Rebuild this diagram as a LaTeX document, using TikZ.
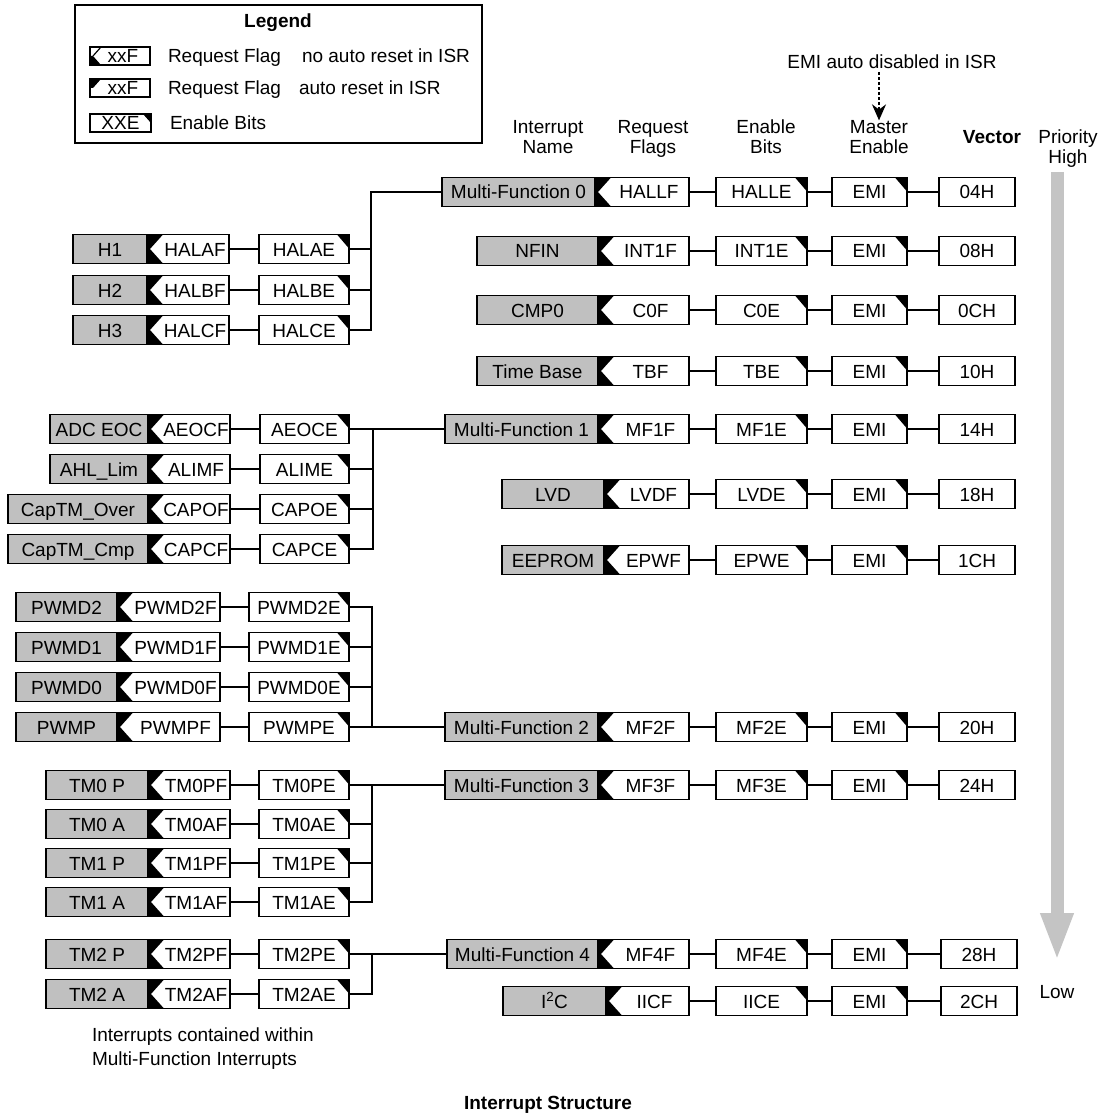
\documentclass[tikz,border=0pt]{standalone}
\usepackage{fontspec}
\setmainfont{Liberation Sans}
\usepackage{tikz}
\usetikzlibrary{arrows.meta,positioning,calc}
\definecolor{ink}{HTML}{000000}
\definecolor{boxgray}{HTML}{C0C0C0}
\definecolor{arrowgray}{HTML}{C4C4C4}
\newcommand{\diagfont}{\fontsize{19}{20}\selectfont}

\begin{document}
\begin{tikzpicture}[x=1pt,y=-1pt,every node/.style={font=\diagfont,inner sep=0pt,outer sep=0pt},
namebox/.style={draw=ink,fill=boxgray,line width=1.7pt,minimum height=29pt,text height=14pt,text depth=0pt},
flagbox/.style={draw=ink,fill=white,line width=1.7pt,minimum height=29pt,minimum width=82pt,text height=14pt,text depth=0pt,execute at begin node={\hspace*{14pt}},path picture={\fill[ink] (path picture bounding box.north west) -- ([xshift=16pt]path picture bounding box.north west) -- ([xshift=3pt]path picture bounding box.west) -- ([xshift=16pt]path picture bounding box.south west) -- (path picture bounding box.south west) -- cycle;}},
enbox/.style={draw=ink,fill=white,line width=1.7pt,minimum height=29pt,minimum width=90pt,text height=14pt,text depth=0pt,path picture={\fill[ink] ([xshift=-12pt]path picture bounding box.north east) -- (path picture bounding box.north east) -- ([yshift=-14pt]path picture bounding box.north east) -- cycle;}},
emibox/.style={enbox,minimum width=75pt},
vecbox/.style={draw=ink,line width=1.7pt,minimum height=29pt,minimum width=76pt,text height=14pt,text depth=0pt},
lgflaga/.style={draw=ink,fill=white,line width=1.7pt,minimum width=60pt,minimum height=18pt,text height=13pt,text depth=0pt,execute at begin node={\hspace*{6pt}},path picture={\fill[ink] ([xshift=3pt]path picture bounding box.west) -- ([xshift=11pt]path picture bounding box.south west) -- (path picture bounding box.south west) -- (path picture bounding box.west) -- cycle;\draw[ink,line width=1.2pt] ([xshift=11pt]path picture bounding box.north west) -- ([xshift=3pt]path picture bounding box.west);}},
lgflagb/.style={draw=ink,fill=white,line width=1.7pt,minimum width=60pt,minimum height=18pt,text height=13pt,text depth=0pt,execute at begin node={\hspace*{6pt}},path picture={\fill[ink] (path picture bounding box.north west) -- ([xshift=11pt]path picture bounding box.north west) -- ([xshift=3pt]path picture bounding box.west) -- (path picture bounding box.west) -- cycle;}},
lgenbox/.style={draw=ink,fill=white,line width=1.7pt,minimum width=61pt,minimum height=18pt,text height=13pt,text depth=0pt,path picture={\fill[ink] ([xshift=-8pt]path picture bounding box.north east) -- (path picture bounding box.north east) -- ([yshift=-9pt]path picture bounding box.north east) -- cycle;}},
hdr/.style={align=center},
link/.style={draw=ink,line width=1.7pt},
dasharrow/.style={draw=ink,line width=1.7pt,dash pattern=on 3pt off 2pt,-{Stealth[length=16pt,width=14pt]}},
prioarrow/.style={draw=arrowgray,line width=13pt,-{Triangle[length=48pt,width=30pt]}}]
\useasboundingbox (0,0) rectangle (1100,1115);
% legend
\node[draw=ink,line width=1.7pt,minimum width=407pt,minimum height=138pt,anchor=north west] (legend) at (75,5) {};
\node[font=\diagfont\bfseries] (lgtitle) at (278,23) {Legend};
\node[lgflaga,anchor=west] (lgf1) at (90,56) {xxF};
\node[anchor=base west] (lgt1) at (168,63) {Request Flag};
\node[anchor=base west] (lgn1) at (302,63) {no auto reset in ISR};
\node[lgflagb,anchor=west] (lgf2) at (90,88) {xxF};
\node[anchor=base west] (lgt2) at (168,95) {Request Flag};
\node[anchor=base west] (lgn2) at (299,95) {auto reset in ISR};
\node[lgenbox,anchor=west] (lge) at (90,123) {XXE};
\node[anchor=base west] (lgt3) at (170,130) {Enable Bits};
% column heads
\node (emitxt) at (892,62) {EMI auto disabled in ISR};
\node[hdr] (hdname) at (548,137) {Interrupt\\Name};
\node[hdr] (hdflag) at (653,139) {Request\\Flags};
\node[hdr] (hden) at (766,137) {Enable\\Bits};
\node[hdr] (hdme) at (879,137) {Master\\Enable};
\node[font=\diagfont\bfseries] (hdvec) at (992,137) {Vector};
\node[hdr] (prio) at (1068,149) {Priority\\High};
\node (low) at (1057,992) {Low};
\draw[dasharrow] ([yshift=-3pt]emitxt.south -| hdme) -- (hdme.north);
\coordinate (phi) at (1057,172);
\coordinate (plo) at (1057,961);
\draw[prioarrow] (phi) -- (plo);
% main column
\node[namebox,minimum width=153pt,anchor=east] (mf0) at (595,192) {Multi-Function 0};
\node[flagbox,minimum width=94pt,right=0pt of mf0] (mf0f) {HALLF};
\node[enbox,minimum width=91pt,right=27pt of mf0f] (mf0e) {HALLE};
\node[emibox,right=25pt of mf0e] (mf0m) {EMI};
\node[vecbox,right=32pt of mf0m] (mf0v) {04H};
\node[namebox,minimum width=121pt,anchor=east] (nfin) at (598,251) {NFIN};
\node[flagbox,minimum width=91pt,right=0pt of nfin] (nfinf) {INT1F};
\node[enbox,minimum width=91pt,right=27pt of nfinf] (nfine) {INT1E};
\node[emibox,right=25pt of nfine] (nfinm) {EMI};
\node[vecbox,right=32pt of nfinm] (nfinv) {08H};
\node[namebox,minimum width=121pt,anchor=east] (cmp) at (598,310) {CMP0};
\node[flagbox,minimum width=91pt,right=0pt of cmp] (cmpf) {C0F};
\node[enbox,minimum width=91pt,right=27pt of cmpf] (cmpe) {C0E};
\node[emibox,right=25pt of cmpe] (cmpm) {EMI};
\node[vecbox,right=32pt of cmpm] (cmpv) {0CH};
\node[namebox,minimum width=121pt,anchor=east] (tb) at (598,371) {Time Base};
\node[flagbox,minimum width=91pt,right=0pt of tb] (tbf) {TBF};
\node[enbox,minimum width=91pt,right=27pt of tbf] (tbe) {TBE};
\node[emibox,right=25pt of tbe] (tbm) {EMI};
\node[vecbox,right=32pt of tbm] (tbv) {10H};
\node[namebox,minimum width=153pt,anchor=east] (mf1) at (598,429) {Multi-Function 1};
\node[flagbox,minimum width=91pt,right=0pt of mf1] (mf1f) {MF1F};
\node[enbox,minimum width=91pt,right=27pt of mf1f] (mf1e) {MF1E};
\node[emibox,right=25pt of mf1e] (mf1m) {EMI};
\node[vecbox,right=32pt of mf1m] (mf1v) {14H};
\node[namebox,minimum width=102pt,anchor=east] (lvd) at (604,494) {LVD};
\node[flagbox,minimum width=85pt,right=0pt of lvd] (lvdf) {LVDF};
\node[enbox,minimum width=91pt,right=27pt of lvdf] (lvde) {LVDE};
\node[emibox,right=25pt of lvde] (lvdm) {EMI};
\node[vecbox,right=32pt of lvdm] (lvdv) {18H};
\node[namebox,minimum width=102pt,anchor=east] (eep) at (604,560) {EEPROM};
\node[flagbox,minimum width=85pt,right=0pt of eep] (eepf) {EPWF};
\node[enbox,minimum width=91pt,right=27pt of eepf] (eepe) {EPWE};
\node[emibox,right=25pt of eepe] (eepm) {EMI};
\node[vecbox,right=32pt of eepm] (eepv) {1CH};
\node[namebox,minimum width=153pt,anchor=east] (mf2) at (598,727) {Multi-Function 2};
\node[flagbox,minimum width=91pt,right=0pt of mf2] (mf2f) {MF2F};
\node[enbox,minimum width=91pt,right=27pt of mf2f] (mf2e) {MF2E};
\node[emibox,right=25pt of mf2e] (mf2m) {EMI};
\node[vecbox,right=32pt of mf2m] (mf2v) {20H};
\node[namebox,minimum width=153pt,anchor=east] (mf3) at (598,785) {Multi-Function 3};
\node[flagbox,minimum width=91pt,right=0pt of mf3] (mf3f) {MF3F};
\node[enbox,minimum width=91pt,right=27pt of mf3f] (mf3e) {MF3E};
\node[emibox,right=25pt of mf3e] (mf3m) {EMI};
\node[vecbox,right=32pt of mf3m] (mf3v) {24H};
\node[namebox,minimum width=151pt,anchor=east] (mf4) at (598,954) {Multi-Function 4};
\node[flagbox,minimum width=91pt,right=0pt of mf4] (mf4f) {MF4F};
\node[enbox,minimum width=91pt,right=27pt of mf4f] (mf4e) {MF4E};
\node[emibox,right=25pt of mf4e] (mf4m) {EMI};
\node[vecbox,right=34pt of mf4m] (mf4v) {28H};
\node[namebox,minimum width=103pt,anchor=east] (iic) at (606,1001) {I\textsuperscript{2}C};
\node[flagbox,minimum width=83pt,right=0pt of iic] (iicf) {IICF};
\node[enbox,minimum width=91pt,right=27pt of iicf] (iice) {IICE};
\node[emibox,right=25pt of iice] (iicm) {EMI};
\node[vecbox,right=34pt of iicm] (iicv) {2CH};
\draw[link] (mf0f) -- (mf0e) -- (mf0m) -- (mf0v);
\draw[link] (nfinf) -- (nfine) -- (nfinm) -- (nfinv);
\draw[link] (cmpf) -- (cmpe) -- (cmpm) -- (cmpv);
\draw[link] (tbf) -- (tbe) -- (tbm) -- (tbv);
\draw[link] (mf1f) -- (mf1e) -- (mf1m) -- (mf1v);
\draw[link] (lvdf) -- (lvde) -- (lvdm) -- (lvdv);
\draw[link] (eepf) -- (eepe) -- (eepm) -- (eepv);
\draw[link] (mf2f) -- (mf2e) -- (mf2m) -- (mf2v);
\draw[link] (mf3f) -- (mf3e) -- (mf3m) -- (mf3v);
\draw[link] (mf4f) -- (mf4e) -- (mf4m) -- (mf4v);
\draw[link] (iicf) -- (iice) -- (iicm) -- (iicv);
% hall sensor group
\node[namebox,minimum width=74pt,anchor=east] (h1) at (147,249) {H1};
\node[flagbox,right=0pt of h1] (h1f) {HALAF};
\node[enbox,right=30pt of h1f] (h1e) {HALAE};
\node[namebox,minimum width=74pt,anchor=east] (h2) at (147,290) {H2};
\node[flagbox,right=0pt of h2] (h2f) {HALBF};
\node[enbox,right=30pt of h2f] (h2e) {HALBE};
\node[namebox,minimum width=74pt,anchor=east] (h3) at (147,330) {H3};
\node[flagbox,right=0pt of h3] (h3f) {HALCF};
\node[enbox,right=30pt of h3f] (h3e) {HALCE};
\coordinate (hbus) at (371,192);
\draw[link] (h1f) -- (h1e);\draw[link] (h2f) -- (h2e);\draw[link] (h3f) -- (h3e);
\draw[link] (mf0) -- (hbus) |- (h3e);
\draw[link] (h1e) -- (h1e -| hbus);\draw[link] (h2e) -- (h2e -| hbus);
% adc group
\node[namebox,minimum width=98pt,anchor=east] (a1) at (148,429) {ADC EOC};
\node[flagbox,right=0pt of a1] (a1f) {AEOCF};
\node[enbox,minimum width=89pt,right=30pt of a1f] (a1e) {AEOCE};
\node[namebox,minimum width=98pt,anchor=east] (a2) at (148,469) {AHL\_Lim};
\node[flagbox,right=0pt of a2] (a2f) {ALIMF};
\node[enbox,minimum width=89pt,right=30pt of a2f] (a2e) {ALIME};
\node[namebox,minimum width=140pt,anchor=east] (a3) at (148,509) {CapTM\_Over};
\node[flagbox,right=0pt of a3] (a3f) {CAPOF};
\node[enbox,minimum width=89pt,right=30pt of a3f] (a3e) {CAPOE};
\node[namebox,minimum width=140pt,anchor=east] (a4) at (148,549) {CapTM\_Cmp};
\node[flagbox,right=0pt of a4] (a4f) {CAPCF};
\node[enbox,minimum width=89pt,right=30pt of a4f] (a4e) {CAPCE};
\coordinate (abus) at (373,429);
\draw[link] (a1f) -- (a1e);\draw[link] (a2f) -- (a2e);\draw[link] (a3f) -- (a3e);\draw[link] (a4f) -- (a4e);
\draw[link] (mf1) -- (abus) |- (a4e);
\draw[link] (a1e) -- (abus);\draw[link] (a2e) -- (a2e -| abus);\draw[link] (a3e) -- (a3e -| abus);
% pwm group
\node[namebox,minimum width=101pt,anchor=east] (p1) at (117,607) {PWMD2};
\node[flagbox,minimum width=103pt,right=0pt of p1] (p1f) {PWMD2F};
\node[enbox,minimum width=100pt,right=29pt of p1f] (p1e) {PWMD2E};
\node[namebox,minimum width=101pt,anchor=east] (p2) at (117,647) {PWMD1};
\node[flagbox,minimum width=103pt,right=0pt of p2] (p2f) {PWMD1F};
\node[enbox,minimum width=100pt,right=29pt of p2f] (p2e) {PWMD1E};
\node[namebox,minimum width=101pt,anchor=east] (p3) at (117,687) {PWMD0};
\node[flagbox,minimum width=103pt,right=0pt of p3] (p3f) {PWMD0F};
\node[enbox,minimum width=100pt,right=29pt of p3f] (p3e) {PWMD0E};
\node[namebox,minimum width=101pt,anchor=east] (p4) at (117,727) {PWMP};
\node[flagbox,minimum width=103pt,right=0pt of p4] (p4f) {PWMPF};
\node[enbox,minimum width=100pt,right=29pt of p4f] (p4e) {PWMPE};
\coordinate (pbus) at (372,727);
\draw[link] (p1f) -- (p1e);\draw[link] (p2f) -- (p2e);\draw[link] (p3f) -- (p3e);\draw[link] (p4f) -- (p4e);
\draw[link] (mf2) -- (pbus) |- (p1e);
\draw[link] (p4e) -- (pbus);\draw[link] (p2e) -- (p2e -| pbus);\draw[link] (p3e) -- (p3e -| pbus);
% timer group
\node[namebox,minimum width=102pt,anchor=east] (t1) at (148,785) {TM0 P};
\node[flagbox,right=0pt of t1] (t1f) {TM0PF};
\node[enbox,right=29pt of t1f] (t1e) {TM0PE};
\node[namebox,minimum width=102pt,anchor=east] (t2) at (148,824) {TM0 A};
\node[flagbox,right=0pt of t2] (t2f) {TM0AF};
\node[enbox,right=29pt of t2f] (t2e) {TM0AE};
\node[namebox,minimum width=102pt,anchor=east] (t3) at (148,863) {TM1 P};
\node[flagbox,right=0pt of t3] (t3f) {TM1PF};
\node[enbox,right=29pt of t3f] (t3e) {TM1PE};
\node[namebox,minimum width=102pt,anchor=east] (t4) at (148,902) {TM1 A};
\node[flagbox,right=0pt of t4] (t4f) {TM1AF};
\node[enbox,right=29pt of t4f] (t4e) {TM1AE};
\coordinate (tbus) at (372,785);
\draw[link] (t1f) -- (t1e);\draw[link] (t2f) -- (t2e);\draw[link] (t3f) -- (t3e);\draw[link] (t4f) -- (t4e);
\draw[link] (mf3) -- (tbus) |- (t4e);
\draw[link] (t1e) -- (tbus);\draw[link] (t2e) -- (t2e -| tbus);\draw[link] (t3e) -- (t3e -| tbus);
% tm2 group
\node[namebox,minimum width=102pt,anchor=east] (s1) at (148,954) {TM2 P};
\node[flagbox,right=0pt of s1] (s1f) {TM2PF};
\node[enbox,right=29pt of s1f] (s1e) {TM2PE};
\node[namebox,minimum width=102pt,anchor=east] (s2) at (148,994) {TM2 A};
\node[flagbox,right=0pt of s2] (s2f) {TM2AF};
\node[enbox,right=29pt of s2f] (s2e) {TM2AE};
\coordinate (sbus) at (372,954);
\draw[link] (s1f) -- (s1e);\draw[link] (s2f) -- (s2e);
\draw[link] (mf4) -- (sbus) |- (s2e);
\draw[link] (s1e) -- (sbus);
% captions
\node[align=left,anchor=north west,font=\fontsize{19}{24}\selectfont] (note) at (92,1028) {Interrupts contained within\\Multi-Function Interrupts};
\node[font=\diagfont\bfseries,anchor=base] (title) at (548,1109) {Interrupt Structure};
\end{tikzpicture}
\end{document}
